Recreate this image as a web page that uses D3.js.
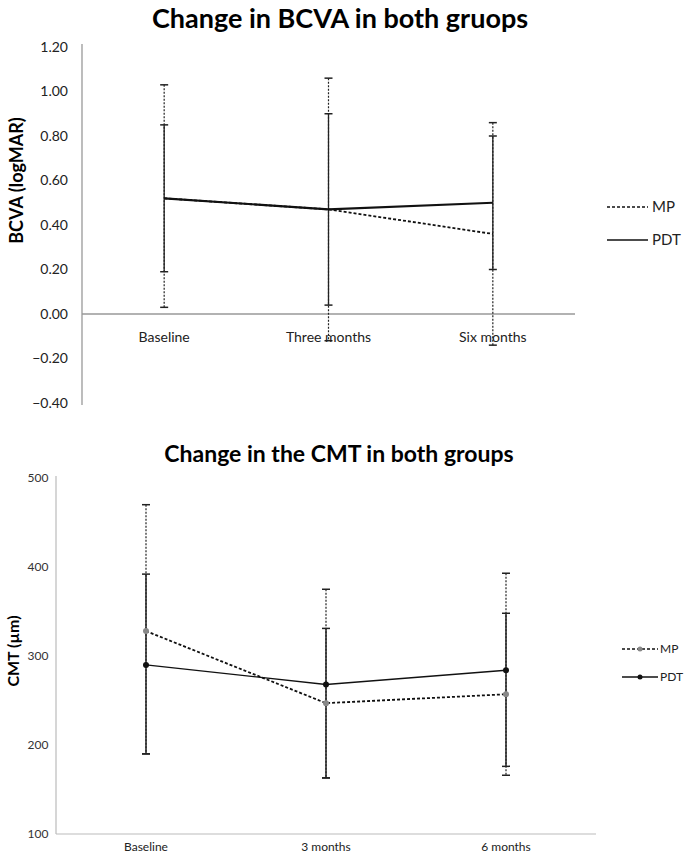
<!DOCTYPE html>
<meta charset="utf-8">
<script src="https://d3js.org/d3.v7.min.js"></script>
<style>
    body { margin: 0; background: #fff; }
    text { font-family: 'Lato', 'Open Sans', sans-serif; }
</style>
<div id="chart"></div>
<script>
    // top chart: BCVA
    const bcvaCategories = ["Baseline", "Three months", "Six months"];
    const bcvaTicks = [1.2, 1.0, 0.8, 0.6, 0.4, 0.2, 0.0, -0.2, -0.4];
    const mpBCVA = [0.52, 0.47, 0.36];
    const mpBCVAHigh = [1.03, 1.06, 0.86];
    const mpBCVALow = [0.03, -0.12, -0.14];
    const pdtBCVA = [0.52, 0.47, 0.50];
    const pdtBCVAHigh = [0.85, 0.90, 0.80];
    const pdtBCVALow = [0.19, 0.04, 0.20];

    // bottom chart: CMT
    const cmtCategories = ["Baseline", "3 months", "6 months"];
    const cmtTicks = [500, 400, 300, 200, 100];
    const mpCMT = [328, 247, 257];
    const mpCMTHigh = [470, 375, 393];
    const mpCMTLow = [190, 163, 166];
    const pdtCMT = [290, 268, 284];
    const pdtCMTHigh = [392, 331, 348];
    const pdtCMTLow = [190, 163, 176];

    const svg = d3.select("#chart").append("svg")
        .attr("width", 685)
        .attr("height", 857);

    function series(vals, hi, lo) {
        return vals.map((v, i) => ({i: i, v: v, hi: hi[i], lo: lo[i]}));
    }

    // ---------- BCVA ----------
    let x1 = d3.scaleBand().domain(bcvaCategories).range([82, 575]);
    let y1 = d3.scaleLinear().domain([-0.4, 1.2]).range([403, 47]);
    let cx1 = d => x1(bcvaCategories[d.i]) + x1.bandwidth() / 2;

    svg.append("text")
        .attr("x", 340).attr("y", 28)
        .attr("text-anchor", "middle")
        .style("font-size", "27px").style("font-weight", "bold")
        .text("Change in BCVA in both gruops");

    svg.append("text")
        .attr("transform", "translate(23," + y1(0.6) + ") rotate(-90)")
        .attr("text-anchor", "middle")
        .style("font-size", "18px").style("font-weight", "bold")
        .text("BCVA (logMAR)");

    svg.append("line")
        .attr("x1", 82).attr("x2", 82)
        .attr("y1", y1(1.2) - 3).attr("y2", y1(-0.4) + 2)
        .attr("stroke", "#999").attr("stroke-width", 1.3);
    svg.append("line")
        .attr("x1", 82).attr("x2", 575)
        .attr("y1", y1(0)).attr("y2", y1(0))
        .attr("stroke", "#999").attr("stroke-width", 1.3);

    svg.selectAll(".ytick1").data(bcvaTicks).enter().append("text")
        .attr("x", 68).attr("y", d => y1(d)).attr("dy", "0.35em")
        .attr("text-anchor", "end")
        .style("font-size", "14px").attr("fill", "#222")
        .text(d => d3.format(".2f")(d));

    svg.selectAll(".xtick1").data(bcvaCategories).enter().append("text")
        .attr("x", d => x1(d) + x1.bandwidth() / 2).attr("y", 337).attr("dy", "0.35em")
        .attr("text-anchor", "middle")
        .style("font-size", "14px").attr("fill", "#222")
        .text(d => d);

    function errorBars(g, data, cx, y, dash, width) {
        let eb = g.append("g");
        data.forEach(d => {
            eb.append("line")
                .attr("x1", cx(d)).attr("x2", cx(d))
                .attr("y1", y(d.hi)).attr("y2", y(d.lo))
                .attr("stroke", "#222").attr("stroke-width", width)
                .attr("stroke-dasharray", dash);
            [d.hi, d.lo].forEach(v => {
                eb.append("line")
                    .attr("x1", cx(d) - 4).attr("x2", cx(d) + 4)
                    .attr("y1", y(v)).attr("y2", y(v))
                    .attr("stroke", "#222").attr("stroke-width", 1.5);
            });
        });
    }

    let mp1 = series(mpBCVA, mpBCVAHigh, mpBCVALow);
    let pdt1 = series(pdtBCVA, pdtBCVAHigh, pdtBCVALow);
    errorBars(svg, mp1, cx1, y1, "2,1.5", 1.2);
    errorBars(svg, pdt1, cx1, y1, null, 1.3);

    let line1 = d3.line().x(cx1).y(d => y1(d.v));
    svg.append("path").datum(mp1).attr("d", line1)
        .attr("fill", "none").attr("stroke", "#111")
        .attr("stroke-width", 1.8).attr("stroke-dasharray", "3,2");
    svg.append("path").datum(pdt1).attr("d", line1)
        .attr("fill", "none").attr("stroke", "#111").attr("stroke-width", 2.2);

    // legend top
    [["MP", "3,2", 207], ["PDT", null, 240]].forEach(l => {
        svg.append("line")
            .attr("x1", 607).attr("x2", 648).attr("y1", l[2]).attr("y2", l[2])
            .attr("stroke", "#111").attr("stroke-width", 1.6)
            .attr("stroke-dasharray", l[1]);
        svg.append("text")
            .attr("x", 652).attr("y", l[2]).attr("dy", "0.35em")
            .style("font-size", "15px").attr("fill", "#222")
            .text(l[0]);
    });

    // ---------- CMT ----------
    let x2 = d3.scaleBand().domain(cmtCategories).range([56, 596]);
    let y2 = d3.scaleLinear().domain([100, 500]).range([834, 478]);
    let cx2 = d => x2(cmtCategories[d.i]) + x2.bandwidth() / 2;

    svg.append("text")
        .attr("x", 339).attr("y", 462)
        .attr("text-anchor", "middle")
        .style("font-size", "23px").style("font-weight", "bold")
        .text("Change in the CMT in both groups");

    svg.append("text")
        .attr("transform", "translate(19," + (y2(300) - 5) + ") rotate(-90)")
        .attr("text-anchor", "middle")
        .style("font-size", "16px").style("font-weight", "bold")
        .text("CMT (µm)");

    svg.append("line")
        .attr("x1", 56).attr("x2", 56)
        .attr("y1", y2(500) - 2).attr("y2", y2(100))
        .attr("stroke", "#bbb").attr("stroke-width", 1.2);
    svg.append("line")
        .attr("x1", 56).attr("x2", 596)
        .attr("y1", y2(100)).attr("y2", y2(100))
        .attr("stroke", "#bbb").attr("stroke-width", 1.2);

    svg.selectAll(".ytick2").data(cmtTicks).enter().append("text")
        .attr("x", 38).attr("y", d => y2(d)).attr("dy", "0.35em")
        .attr("text-anchor", "middle")
        .style("font-size", "12px").attr("fill", "#333")
        .text(d => d);

    svg.selectAll(".xtick2").data(cmtCategories).enter().append("text")
        .attr("x", d => x2(d) + x2.bandwidth() / 2).attr("y", 847).attr("dy", "0.35em")
        .attr("text-anchor", "middle")
        .style("font-size", "12px").attr("fill", "#222")
        .text(d => d);

    let mp2 = series(mpCMT, mpCMTHigh, mpCMTLow);
    let pdt2 = series(pdtCMT, pdtCMTHigh, pdtCMTLow);
    errorBars(svg, mp2, cx2, y2, "2,1.5", 1.2);
    errorBars(svg, pdt2, cx2, y2, null, 1.5);

    let line2 = d3.line().x(cx2).y(d => y2(d.v));
    svg.append("path").datum(mp2).attr("d", line2)
        .attr("fill", "none").attr("stroke", "#111")
        .attr("stroke-width", 1.8).attr("stroke-dasharray", "3,2");
    svg.append("path").datum(pdt2).attr("d", line2)
        .attr("fill", "none").attr("stroke", "#111").attr("stroke-width", 1.3);

    svg.selectAll(".mpdot").data(mp2).enter().append("circle")
        .attr("cx", cx2).attr("cy", d => y2(d.v)).attr("r", 3)
        .attr("fill", "#888");
    svg.selectAll(".pdtdot").data(pdt2).enter().append("circle")
        .attr("cx", cx2).attr("cy", d => y2(d.v)).attr("r", 3)
        .attr("fill", "#111");

    // legend bottom
    [["MP", "3,2", 649, "#888"], ["PDT", null, 677, "#111"]].forEach(l => {
        svg.append("line")
            .attr("x1", 622).attr("x2", 658).attr("y1", l[2]).attr("y2", l[2])
            .attr("stroke", "#111").attr("stroke-width", 1.3)
            .attr("stroke-dasharray", l[1]);
        svg.append("circle")
            .attr("cx", 640).attr("cy", l[2]).attr("r", 2.5).attr("fill", l[3]);
        svg.append("text")
            .attr("x", 660).attr("y", l[2]).attr("dy", "0.35em")
            .style("font-size", "12px").attr("fill", "#222")
            .text(l[0]);
    });
</script>
